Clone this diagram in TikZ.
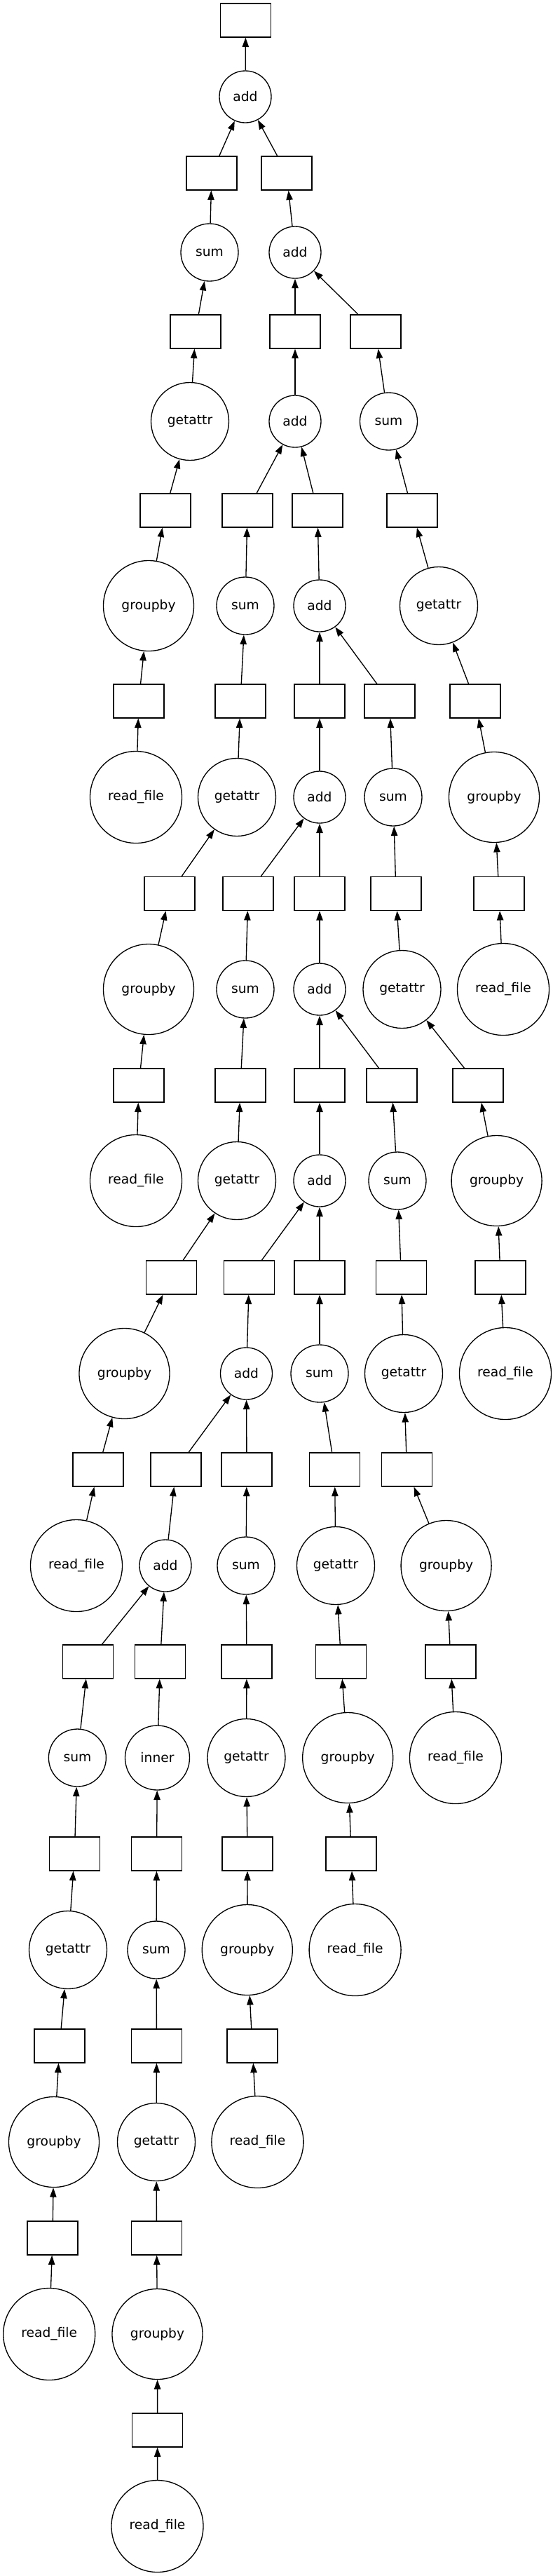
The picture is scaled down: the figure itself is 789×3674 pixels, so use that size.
\documentclass[tikz,border=0pt]{standalone}
\usepackage{fontspec}
\setmainfont{DejaVu Sans}
\usetikzlibrary{arrows.meta}
\begin{document}
\begin{tikzpicture}[x=0.75pt,y=-0.75pt,
  nd/.style={draw=black, line width=1pt, fill=white, inner sep=0pt, font=\fontsize{14}{16}\selectfont},
  bx/.style={nd, rectangle, minimum width=54pt, minimum height=36pt},
  addc/.style={nd, circle, minimum size=55.5pt},
  sumc/.style={nd, circle, minimum size=61.5pt},
  getc/.style={nd, circle, minimum size=83.25pt},
  grpc/.style={nd, circle, minimum size=96.75pt},
  readc/.style={nd, circle, minimum size=98.25pt},
  innc/.style={nd, circle, minimum size=69pt},
  lnk/.style={-{Triangle[length=10pt,width=7pt]}, line width=1pt, draw=black}
]
\useasboundingbox[fill=white] (0,0) rectangle (789,3674);

% row 29
\node[bx] (B0) at (350.5,29) {};
% row 138
\node[addc] (A1) at (350,138) {add};
% row 247
\node[bx] (b1a) at (302,247) {};
\node[bx] (b1b) at (409,247) {};
% row 360
\node[sumc] (S1) at (299,360) {sum};
\node[addc] (A2) at (421,360) {add};
% row 473
\node[bx] (b2a) at (279,473) {};
\node[bx] (b2b) at (421,473) {};
\node[bx] (b2c) at (536,473) {};
% row 601
\node[getc] (G1) at (271,601) {getattr};
\node[addc] (A3) at (421,601) {add};
\node[sumc] (S2) at (554.5,601) {sum};
% row 728
\node[bx] (b3a) at (236,728) {};
\node[bx] (b3b) at (353,728) {};
\node[bx] (b3c) at (453,728) {};
\node[bx] (b3d) at (588,728) {};
% row 864
\node[grpc] (GB1) at (212,864) {groupby};
\node[sumc] (S3) at (350,864) {sum};
\node[addc] (A4) at (456,864) {add};
\node[getc] (G2) at (626,864) {getattr};
% row 1000
\node[bx] (b4a) at (198,1000) {};
\node[bx] (b4b) at (343,1000) {};
\node[bx] (b4c) at (456,1000) {};
\node[bx] (b4d) at (556,1000) {};
\node[bx] (b4e) at (678,1000) {};
% row 1137
\node[readc] (RF1) at (194,1137) {read\_file};
\node[getc] (G3) at (338,1137) {getattr};
\node[addc] (A5) at (456,1137) {add};
\node[sumc] (S4) at (561,1137) {sum};
\node[grpc] (GB2) at (705,1137) {groupby};
% row 1274
\node[bx] (b5a) at (242,1274.5) {};
\node[bx] (b5b) at (354,1274.5) {};
\node[bx] (b5c) at (456,1274.5) {};
\node[bx] (b5d) at (565,1274.5) {};
\node[bx] (b5e) at (712,1274.5) {};
% row 1411
\node[grpc] (GB3) at (212,1411) {groupby};
\node[sumc] (S5) at (350,1411) {sum};
\node[addc] (A6) at (456,1411) {add};
\node[getc] (G4) at (573.5,1411) {getattr};
\node[readc] (RF2) at (718,1411) {read\_file};
% row 1548
\node[bx] (b6a) at (198,1548) {};
\node[bx] (b6b) at (343,1548) {};
\node[bx] (b6c) at (456,1548) {};
\node[bx] (b6d) at (559,1548) {};
\node[bx] (b6e) at (682,1548) {};
% row 1684
\node[readc] (RF3) at (194,1684) {read\_file};
\node[getc] (G5) at (338,1684) {getattr};
\node[addc] (A7) at (456,1684) {add};
\node[sumc] (S6) at (567,1684) {sum};
\node[grpc] (GB4) at (708.6,1684) {groupby};
% row 1822
\node[bx] (b7a) at (244.5,1822) {};
\node[bx] (b7b) at (355.5,1822) {};
\node[bx] (b7c) at (456,1822) {};
\node[bx] (b7d) at (572.5,1822) {};
\node[bx] (b7e) at (714,1822) {};
% row 1959
\node[grpc] (GB5) at (177.5,1959) {groupby};
\node[addc] (A8) at (351.5,1959) {add};
\node[sumc] (S7) at (456,1959) {sum};
\node[getc] (G6) at (576,1959) {getattr};
\node[readc] (RF4) at (721,1959) {read\_file};
% row 2096
\node[bx] (b8a) at (140,2096) {};
\node[bx] (b8b) at (251,2096) {};
\node[bx] (b8c) at (352,2096) {};
\node[bx] (b8d) at (477.5,2096) {};
\node[bx] (b8e) at (580.5,2096) {};
% row 2233
\node[readc] (RF5) at (109,2233) {read\_file};
\node[addc] (A9) at (236,2233) {add};
\node[sumc] (S8) at (351,2233) {sum};
\node[getc] (G7) at (479,2233) {getattr};
\node[grpc] (GB6) at (636.6,2233) {groupby};
% row 2370
\node[bx] (b9a) at (125.5,2370) {};
\node[bx] (b9b) at (228.5,2370) {};
\node[bx] (b9c) at (352,2370) {};
\node[bx] (b9d) at (486.6,2370) {};
\node[bx] (b9e) at (643,2370) {};
% row 2507
\node[sumc] (S9) at (110.4,2507) {sum};
\node[innc] (I1) at (224.5,2507) {inner};
\node[getc] (G8) at (351.5,2507) {getattr};
\node[grpc] (GB7) at (496.2,2507) {groupby};
\node[readc] (RF6) at (650,2507) {read\_file};
% row 2644
\node[bx] (b10a) at (106.3,2644) {};
\node[bx] (b10b) at (223.5,2644) {};
\node[bx] (b10c) at (353,2644) {};
\node[bx] (b10d) at (501,2644) {};
% row 2781
\node[getc] (G9) at (97,2781) {getattr};
\node[sumc] (S10) at (223,2781) {sum};
\node[grpc] (GB8) at (352.8,2781) {groupby};
\node[readc] (RF7) at (506.6,2781) {read\_file};
% row 2918
\node[bx] (b11a) at (85,2918) {};
\node[bx] (b11b) at (223.5,2918) {};
\node[bx] (b11c) at (360,2918) {};
% row 3055
\node[grpc] (GB9) at (77,3055) {groupby};
\node[getc] (G10) at (223,3055) {getattr};
\node[readc] (RF8) at (367.4,3055) {read\_file};
% row 3192
\node[bx] (b12a) at (75,3192) {};
\node[bx] (b12b) at (223.5,3192) {};
% row 3329
\node[readc] (RF9) at (70.2,3329) {read\_file};
\node[grpc] (GB10) at (224.5,3329) {groupby};
% row 3466
\node[bx] (b13) at (224.7,3466) {};
% row 3603
\node[readc] (RF10) at (224.5,3603) {read\_file};

% edges (tail -> head)
\draw[lnk] (A1) -- (B0);
\draw[lnk] (b1a) -- (A1);
\draw[lnk] (b1b) -- (A1);
\draw[lnk] (S1) -- (b1a);
\draw[lnk] (A2) -- (b1b);
\draw[lnk] (b2a) -- (S1);
\draw[lnk] (b2b) -- (A2);
\draw[lnk] (b2c) -- (A2);
\draw[lnk] (G1) -- (b2a);
\draw[lnk] (A3) -- (b2b);
\draw[lnk] (S2) -- (b2c);
\draw[lnk] (b3a) -- (G1);
\draw[lnk] (b3b) -- (A3);
\draw[lnk] (b3c) -- (A3);
\draw[lnk] (b3d) -- (S2);
\draw[lnk] (GB1) -- (b3a);
\draw[lnk] (S3) -- (b3b);
\draw[lnk] (A4) -- (b3c);
\draw[lnk] (G2) -- (b3d);
\draw[lnk] (b4a) -- (GB1);
\draw[lnk] (b4b) -- (S3);
\draw[lnk] (b4c) -- (A4);
\draw[lnk] (b4d) -- (A4);
\draw[lnk] (b4e) -- (G2);
\draw[lnk] (RF1) -- (b4a);
\draw[lnk] (G3) -- (b4b);
\draw[lnk] (A5) -- (b4c);
\draw[lnk] (S4) -- (b4d);
\draw[lnk] (GB2) -- (b4e);
\draw[lnk] (b5a) -- (G3);
\draw[lnk] (b5b) -- (A5);
\draw[lnk] (b5c) -- (A5);
\draw[lnk] (b5d) -- (S4);
\draw[lnk] (b5e) -- (GB2);
\draw[lnk] (GB3) -- (b5a);
\draw[lnk] (S5) -- (b5b);
\draw[lnk] (A6) -- (b5c);
\draw[lnk] (G4) -- (b5d);
\draw[lnk] (RF2) -- (b5e);
\draw[lnk] (b6a) -- (GB3);
\draw[lnk] (b6b) -- (S5);
\draw[lnk] (b6c) -- (A6);
\draw[lnk] (b6d) -- (A6);
\draw[lnk] (b6e) -- (G4);
\draw[lnk] (RF3) -- (b6a);
\draw[lnk] (G5) -- (b6b);
\draw[lnk] (A7) -- (b6c);
\draw[lnk] (S6) -- (b6d);
\draw[lnk] (GB4) -- (b6e);
\draw[lnk] (b7a) -- (G5);
\draw[lnk] (b7b) -- (A7);
\draw[lnk] (b7c) -- (A7);
\draw[lnk] (b7d) -- (S6);
\draw[lnk] (b7e) -- (GB4);
\draw[lnk] (GB5) -- (b7a);
\draw[lnk] (A8) -- (b7b);
\draw[lnk] (S7) -- (b7c);
\draw[lnk] (G6) -- (b7d);
\draw[lnk] (RF4) -- (b7e);
\draw[lnk] (b8a) -- (GB5);
\draw[lnk] (b8b) -- (A8);
\draw[lnk] (b8c) -- (A8);
\draw[lnk] (b8d) -- (S7);
\draw[lnk] (b8e) -- (G6);
\draw[lnk] (RF5) -- (b8a);
\draw[lnk] (A9) -- (b8b);
\draw[lnk] (S8) -- (b8c);
\draw[lnk] (G7) -- (b8d);
\draw[lnk] (GB6) -- (b8e);
\draw[lnk] (b9a) -- (A9);
\draw[lnk] (b9b) -- (A9);
\draw[lnk] (b9c) -- (S8);
\draw[lnk] (b9d) -- (G7);
\draw[lnk] (b9e) -- (GB6);
\draw[lnk] (S9) -- (b9a);
\draw[lnk] (I1) -- (b9b);
\draw[lnk] (G8) -- (b9c);
\draw[lnk] (GB7) -- (b9d);
\draw[lnk] (RF6) -- (b9e);
\draw[lnk] (b10a) -- (S9);
\draw[lnk] (b10b) -- (I1);
\draw[lnk] (b10c) -- (G8);
\draw[lnk] (b10d) -- (GB7);
\draw[lnk] (G9) -- (b10a);
\draw[lnk] (S10) -- (b10b);
\draw[lnk] (GB8) -- (b10c);
\draw[lnk] (RF7) -- (b10d);
\draw[lnk] (b11a) -- (G9);
\draw[lnk] (b11b) -- (S10);
\draw[lnk] (b11c) -- (GB8);
\draw[lnk] (GB9) -- (b11a);
\draw[lnk] (G10) -- (b11b);
\draw[lnk] (RF8) -- (b11c);
\draw[lnk] (b12a) -- (GB9);
\draw[lnk] (b12b) -- (G10);
\draw[lnk] (RF9) -- (b12a);
\draw[lnk] (GB10) -- (b12b);
\draw[lnk] (b13) -- (GB10);
\draw[lnk] (RF10) -- (b13);
\end{tikzpicture}
\end{document}
